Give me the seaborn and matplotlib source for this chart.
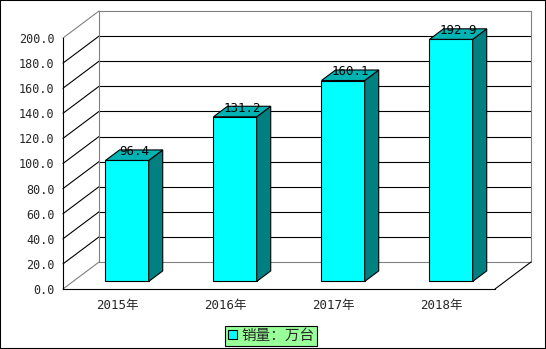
import matplotlib
matplotlib.use("Agg")
import matplotlib.pyplot as plt
import seaborn as sns
import pandas as pd
from matplotlib.patches import Polygon, Rectangle
from matplotlib.lines import Line2D

years = ["2015年", "2016年", "2017年", "2018年"]
sales = [96.4, 131.2, 160.1, 192.9]
series_label = "销量：万台"
yticks = [0, 20, 40, 60, 80, 100, 120, 140, 160, 180, 200]

sns.set_theme(style="white")
plt.rcParams['font.family'] = ['DejaVu Sans Mono', 'Noto Sans CJK SC']

FRONT = "#00FFFF"
SIDE = "#008080"
TOP = "#00B4B4"
GRAY = "#808080"

fig = plt.figure(figsize=(5.46, 3.49), dpi=100)
fig.patch.set_facecolor("white")
ax = fig.add_axes([63/546, 60/349, 432/546, 251/349])
ax.set_facecolor("none")

df = pd.DataFrame({"year": years, "sales": sales})
sns.barplot(data=df, x="year", y="sales", color=FRONT, edgecolor="black",
            linewidth=0.8, width=0.4, saturation=1, label=series_label, ax=ax, zorder=5)

ax.set_xlim(-0.5, 3.5)
ax.set_ylim(0, 200)

# depth (in data units)
DX, DY = 1/3, 21.5
f0 = 0.28      # bar front position as fraction of total depth
fd = 0.39      # bar depth fraction

x0w, x1w = -0.5, 3.5
kw = dict(clip_on=False, lw=0.8)
# walls
for v in yticks:
    col = GRAY if v in (0, 200) else "black"
    ax.add_line(Line2D([x0w, x0w+DX], [v, v+DY], color=col, zorder=1, **kw))
    ax.add_line(Line2D([x0w+DX, x1w+DX], [v+DY, v+DY], color=col, zorder=1, **kw))
ax.add_line(Line2D([x0w+DX, x0w+DX], [DY, 200+DY], color=GRAY, zorder=1, **kw))
ax.add_line(Line2D([x1w+DX, x1w+DX], [DY, 200+DY], color=GRAY, zorder=1, **kw))
ax.add_line(Line2D([x1w, x1w+DX], [0, DY], color="black", zorder=1, **kw))

# 3D bars built from seaborn's patches
bdx, bdy = DX*fd, DY*fd
for p, v in zip(ax.patches, sales):
    p.set_x(p.get_x() + DX*f0)
    p.set_y(DY*f0)
    p.set_clip_on(False)
    xa = p.get_x(); xb = xa + p.get_width()
    yb = p.get_y(); yt = yb + p.get_height()
    side = Polygon([(xb, yb), (xb, yt), (xb+bdx, yt+bdy), (xb+bdx, yb+bdy)],
                   closed=True, facecolor=SIDE, edgecolor="black", lw=0.8,
                   zorder=5, clip_on=False)
    top = Polygon([(xa, yt), (xb, yt), (xb+bdx, yt+bdy), (xa+bdx, yt+bdy)],
                  closed=True, facecolor=TOP, edgecolor="black", lw=0.8,
                  zorder=5, clip_on=False)
    ax.add_patch(side)
    ax.add_patch(top)
    ax.text((xa+xb)/2 + bdx/2, yt + bdy - 1.5, f"{v:.1f}", ha="center", va="center",
            fontsize=9, color="black", zorder=6)

# axes styling
for s in ["top", "right"]:
    ax.spines[s].set_visible(False)
for s in ["left", "bottom"]:
    ax.spines[s].set_color("black")
    ax.spines[s].set_linewidth(0.8)
ax.set_yticks(yticks)
ax.set_yticklabels([f"{v:.1f}" for v in yticks], fontsize=8.5)
ax.tick_params(axis="y", direction="in", length=2, width=0.8, color="black", pad=6)
ax.set_xticks(range(len(years)))
ax.set_xticklabels(years, fontsize=9)
ax.tick_params(axis="x", which="major", length=0, pad=7)
ax.set_xticks([0.5, 1.5, 2.5], minor=True)
ax.tick_params(axis="x", which="minor", direction="in", length=3, width=0.8, color="black")
ax.set_xlabel("")
ax.set_ylabel("")

leg = ax.legend(loc="center", bbox_to_anchor=(271/546, 1-336/349),
                bbox_transform=fig.transFigure, frameon=True, fancybox=False,
                facecolor="#99FF99", edgecolor="black", framealpha=1,
                prop={"family": ["Noto Sans CJK SC"], "size": 10.5},
                handlelength=0.6, handleheight=0.6, handletextpad=0.3,
                borderpad=0.2, borderaxespad=0)
leg.get_frame().set_linewidth(0.8)

fig.patches.append(Rectangle((0, 0), 1, 1, transform=fig.transFigure, fill=False,
                             edgecolor="black", lw=1.5, zorder=10))

fig.savefig("out.png", dpi=100)
